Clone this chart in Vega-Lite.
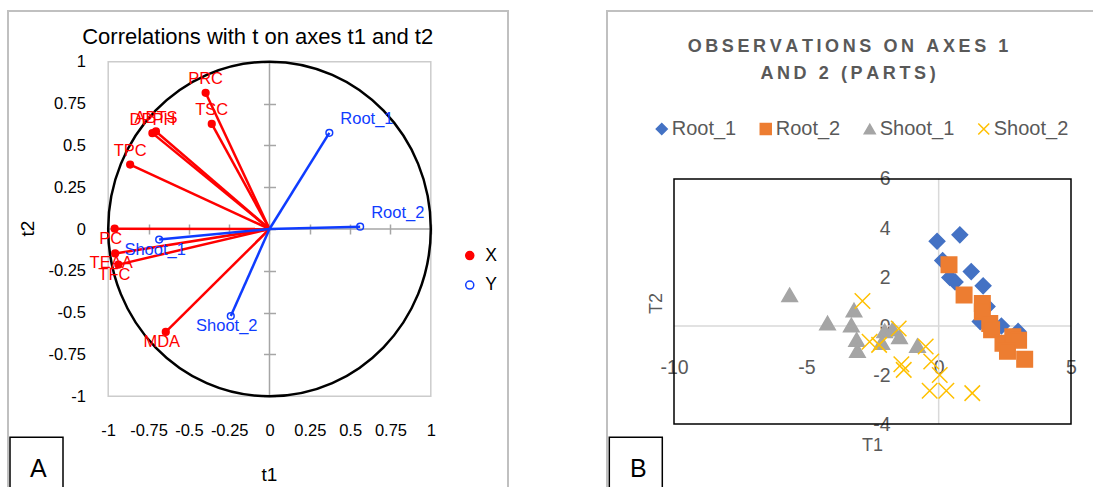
{
  "$schema": "https://vega.github.io/schema/vega-lite/v6.json",
  "background": "white",
  "padding": 0,
  "spacing": 20,
  "config": {"view": {"stroke": null}, "font": "Liberation Sans"},
  "resolve": {
    "scale": {"x": "independent", "y": "independent", "color": "independent", "fill": "independent", "shape": "independent"},
    "legend": {"color": "independent", "fill": "independent", "shape": "independent"}
  },
  "hconcat": [
    {
      "width": 540,
      "height": 487,
      "title": {"text": "Correlations with t on axes t1 and t2", "font": "Liberation Sans", "fontSize": 22, "fontWeight": "normal", "color": "black", "anchor": "middle", "frame": "group", "dx": -12.3, "offset": -48.7},
      "data": {"values": [
        {"name": "PRC", "type": "X", "t1": -0.396, "t2": 0.814},
        {"name": "TSC", "type": "X", "t1": -0.358, "t2": 0.628},
        {"name": "DPPH", "type": "X", "t1": -0.726, "t2": 0.573},
        {"name": "ABTS", "type": "X", "t1": -0.704, "t2": 0.583},
        {"name": "TPC", "type": "X", "t1": -0.864, "t2": 0.385},
        {"name": "PC", "type": "X", "t1": -0.96, "t2": 0.002},
        {"name": "TEAA", "type": "X", "t1": -0.957, "t2": -0.146},
        {"name": "TFC", "type": "X", "t1": -0.937, "t2": -0.213},
        {"name": "MDA", "type": "X", "t1": -0.643, "t2": -0.615},
        {"name": "Root_1", "type": "Y", "t1": 0.371, "t2": 0.575},
        {"name": "Root_2", "type": "Y", "t1": 0.562, "t2": 0.014},
        {"name": "Shoot_1", "type": "Y", "t1": -0.684, "t2": -0.063},
        {"name": "Shoot_2", "type": "Y", "t1": -0.24, "t2": -0.52}
      ]},
      "layer": [
        {
          "data": {"values": [{}]},
          "mark": {"type": "rect", "filled": false, "stroke": "#c0c0c0", "strokeWidth": 2, "clip": true},
          "encoding": {
            "x": {"datum": -1.6212, "type": "quantitative",
              "scale": {"domain": [-1.6708, 1.677], "nice": false, "zero": false},
              "axis": {"values": [-1, -0.75, -0.5, -0.25, 0, 0.25, 0.5, 0.75, 1], "orient": "bottom", "offset": -263, "domain": false, "grid": false, "ticks": true, "tickSize": 10, "tickColor": "#a6a6a6", "tickWidth": 1.5, "labelPadding": 196.5, "labelBaseline": "middle", "labelFont": "Liberation Sans", "labelFontSize": 16.5, "labelColor": "black", "labelFlush": false, "labelOverlap": false, "labelBound": false, "labelExpr": "toString(datum.value)", "title": "t1", "titleFont": "Liberation Sans", "titleFontSize": 19, "titleFontWeight": "normal", "titleColor": "black", "titleX": 269, "titleY": 250, "titleBaseline": "middle", "titleAlign": "center"}},
            "x2": {"datum": 1.47861},
            "y": {"datum": 1.30305, "type": "quantitative",
              "scale": {"domain": [-1.54214, 1.3688], "nice": false, "zero": false},
              "axis": {"values": [-1, -0.75, -0.5, -0.25, 0, 0.25, 0.5, 0.75, 1], "orient": "left", "offset": -275.5, "domain": false, "grid": false, "ticks": true, "tickSize": 12, "tickColor": "#a6a6a6", "tickWidth": 1.5, "labelPadding": 178, "labelAlign": "right", "labelBaseline": "middle", "labelFont": "Liberation Sans", "labelFontSize": 16.5, "labelColor": "black", "labelFlush": false, "labelOverlap": false, "labelBound": false, "labelExpr": "toString(datum.value)", "title": "t2", "titleFont": "Liberation Sans", "titleFontSize": 19, "titleFontWeight": "normal", "titleColor": "black", "titleX": -248.5, "titleY": 228, "titleBaseline": "middle", "titleAlign": "center", "titleAngle": -90}},
            "y2": {"datum": -1.6}
          }
        },
        {
          "data": {"values": [{}]},
          "mark": {"type": "rect", "filled": false, "stroke": "#cccccc", "strokeWidth": 1.5},
          "encoding": {"x": {"datum": -1}, "x2": {"datum": 1}, "y": {"datum": -1}, "y2": {"datum": 1}}
        },
        {
          "data": {"values": [{}]},
          "mark": {"type": "rule", "stroke": "#a6a6a6", "strokeWidth": 1.5},
          "encoding": {"x": {"datum": 0}, "y": {"datum": -1}, "y2": {"datum": 1}}
        },
        {
          "data": {"values": [{}]},
          "mark": {"type": "rule", "stroke": "#a6a6a6", "strokeWidth": 1.5},
          "encoding": {"y": {"datum": 0}, "x": {"datum": -1}, "x2": {"datum": 1}}
        },
        {
          "data": {"values": [{}]},
          "mark": {"type": "point", "shape": "M0.96414,0C0.96414,0.55228,0.53248,1,0,1C-0.53248,1,-0.96414,0.55228,-0.96414,0C-0.96414,-0.55228,-0.53248,-1,0,-1C0.53248,-1,0.96414,-0.55228,0.96414,0Z", "size": 111957, "filled": false, "stroke": "black", "strokeWidth": 2.5, "opacity": 1},
          "encoding": {"x": {"datum": 0}, "y": {"datum": 0}}
        },
        {
          "data": {"values": [{}]},
          "mark": {"type": "rect", "filled": false, "stroke": "black", "strokeWidth": 1.5, "clip": true},
          "encoding": {"x": {"datum": -1.6088}, "x2": {"datum": -1.28022}, "y": {"datum": -1.24507}, "y2": {"datum": -1.6}}
        },
        {
          "data": {"values": [{"panel": "A"}]},
          "mark": {"type": "text", "font": "Liberation Sans", "fontSize": 25, "color": "black", "align": "center", "baseline": "middle"},
          "encoding": {"text": {"field": "panel"}, "x": {"datum": -1.43335}, "y": {"datum": -1.43305}}
        },
        {
          "mark": {"type": "rule", "strokeWidth": 2.5},
          "encoding": {
            "x": {"field": "t1", "type": "quantitative"},
            "y": {"field": "t2", "type": "quantitative"},
            "x2": {"datum": 0},
            "y2": {"datum": 0},
            "color": {"condition": {"test": "datum.type === 'X'", "value": "#ff0000"}, "value": "#0f3cff"}
          }
        },
        {
          "mark": {"type": "point", "filled": false, "size": 45, "strokeWidth": 1.5, "opacity": 1},
          "encoding": {
            "x": {"field": "t1", "type": "quantitative"},
            "y": {"field": "t2", "type": "quantitative"},
            "color": {"field": "type", "type": "nominal", "scale": {"domain": ["X", "Y"], "range": ["#ff0000", "#0f3cff"]},
              "legend": {"orient": "none", "legendX": 461, "legendY": 246.8, "title": null, "padding": 0, "labelFont": "Liberation Sans", "labelFontSize": 17.5, "labelColor": "black", "labelOffset": 6.8, "rowPadding": 10.5, "symbolSize": 65, "symbolStrokeWidth": 1.5}},
            "fill": {"field": "type", "type": "nominal", "scale": {"domain": ["X", "Y"], "range": ["#ff0000", "transparent"]}}
          }
        },
        {
          "transform": [{"filter": "indexof(['PRC','TSC','DPPH','ABTS','TPC'], datum.name) >= 0"}],
          "mark": {"type": "text", "font": "Liberation Sans", "fontSize": 16.5, "align": "center", "baseline": "middle", "dy": -13.5},
          "encoding": {
            "x": {"field": "t1", "type": "quantitative"},
            "y": {"field": "t2", "type": "quantitative"},
            "text": {"field": "name"},
            "color": {"condition": {"test": "datum.type === 'X'", "value": "#ff0000"}, "value": "#0f3cff"}
          }
        },
        {
          "transform": [{"filter": "indexof(['PC','TEAA','TFC','MDA','Shoot_1','Shoot_2'], datum.name) >= 0"}],
          "mark": {"type": "text", "font": "Liberation Sans", "fontSize": 16.5, "align": "center", "baseline": "middle", "dy": 10, "dx": -4},
          "encoding": {
            "x": {"field": "t1", "type": "quantitative"},
            "y": {"field": "t2", "type": "quantitative"},
            "text": {"field": "name"},
            "color": {"condition": {"test": "datum.type === 'X'", "value": "#ff0000"}, "value": "#0f3cff"}
          }
        },
        {
          "transform": [{"filter": "indexof(['Root_1','Root_2'], datum.name) >= 0"}],
          "mark": {"type": "text", "font": "Liberation Sans", "fontSize": 16.5, "align": "left", "baseline": "middle", "dy": -14, "dx": 11},
          "encoding": {
            "x": {"field": "t1", "type": "quantitative"},
            "y": {"field": "t2", "type": "quantitative"},
            "text": {"field": "name"},
            "color": {"condition": {"test": "datum.type === 'X'", "value": "#ff0000"}, "value": "#0f3cff"}
          }
        }
      ]
    },
    {
      "width": 533,
      "height": 487,
      "title": {"text": ["O\u2009B\u2009S\u2009E\u2009R\u2009V\u2009A\u2009T\u2009I\u2009O\u2009N\u2009S\u2009 \u2009O\u2009N\u2009 \u2009A\u2009X\u2009E\u2009S\u2009 \u20091", "A\u2009N\u2009D\u2009 \u20092\u2009 \u2009(\u2009P\u2009A\u2009R\u2009T\u2009S\u2009)"], "font": "Liberation Sans", "fontSize": 18, "fontWeight": "bold", "color": "#595959", "anchor": "middle", "frame": "group", "dx": 21.5, "lineHeight": 27, "offset": -82.7},
      "data": {"values": [
        {"series": "Root_1", "T1": -0.06, "T2": 3.46},
        {"series": "Root_1", "T1": 0.8, "T2": 3.72},
        {"series": "Root_1", "T1": 0.15, "T2": 2.67},
        {"series": "Root_1", "T1": 0.42, "T2": 1.98},
        {"series": "Root_1", "T1": 0.62, "T2": 1.8},
        {"series": "Root_1", "T1": 1.23, "T2": 2.22},
        {"series": "Root_1", "T1": 1.68, "T2": 1.64},
        {"series": "Root_1", "T1": 1.83, "T2": 0.8},
        {"series": "Root_1", "T1": 1.57, "T2": 0.18},
        {"series": "Root_1", "T1": 2.37, "T2": 0.0},
        {"series": "Root_1", "T1": 3.0, "T2": -0.22},
        {"series": "Root_2", "T1": 0.39, "T2": 2.5},
        {"series": "Root_2", "T1": 0.96, "T2": 1.27},
        {"series": "Root_2", "T1": 1.65, "T2": 0.92},
        {"series": "Root_2", "T1": 1.65, "T2": 0.58},
        {"series": "Root_2", "T1": 1.93, "T2": 0.1},
        {"series": "Root_2", "T1": 2.0, "T2": -0.15},
        {"series": "Root_2", "T1": 2.43, "T2": -0.7},
        {"series": "Root_2", "T1": 2.8, "T2": -0.44},
        {"series": "Root_2", "T1": 3.02, "T2": -0.58},
        {"series": "Root_2", "T1": 2.6, "T2": -1.03},
        {"series": "Root_2", "T1": 3.25, "T2": -1.36},
        {"series": "Shoot_1", "T1": -5.63, "T2": 1.27},
        {"series": "Shoot_1", "T1": -4.2, "T2": 0.12},
        {"series": "Shoot_1", "T1": -3.2, "T2": 0.65},
        {"series": "Shoot_1", "T1": -3.3, "T2": 0.04},
        {"series": "Shoot_1", "T1": -3.1, "T2": -0.55},
        {"series": "Shoot_1", "T1": -3.07, "T2": -1.0},
        {"series": "Shoot_1", "T1": -2.04, "T2": -0.2},
        {"series": "Shoot_1", "T1": -2.15, "T2": -0.68},
        {"series": "Shoot_1", "T1": -1.73, "T2": -0.12},
        {"series": "Shoot_1", "T1": -1.48, "T2": -0.44},
        {"series": "Shoot_1", "T1": -0.8, "T2": -0.8},
        {"series": "Shoot_2", "T1": -2.88, "T2": 1.02},
        {"series": "Shoot_2", "T1": -2.61, "T2": -0.64},
        {"series": "Shoot_2", "T1": -2.25, "T2": -0.77},
        {"series": "Shoot_2", "T1": -1.51, "T2": -0.1},
        {"series": "Shoot_2", "T1": -0.49, "T2": -0.84},
        {"series": "Shoot_2", "T1": -0.28, "T2": -1.45},
        {"series": "Shoot_2", "T1": -1.41, "T2": -1.56},
        {"series": "Shoot_2", "T1": -1.32, "T2": -1.79},
        {"series": "Shoot_2", "T1": 0.04, "T2": -2.0},
        {"series": "Shoot_2", "T1": -0.34, "T2": -2.64},
        {"series": "Shoot_2", "T1": 0.29, "T2": -2.64},
        {"series": "Shoot_2", "T1": 1.27, "T2": -2.74}
      ]},
      "layer": [
        {
          "data": {"values": [{}]},
          "mark": {"type": "rect", "filled": false, "stroke": "#c0c0c0", "strokeWidth": 2, "clip": true},
          "encoding": {
            "x": {"datum": -12.5315, "type": "quantitative",
              "scale": {"domain": [-14.3073, 5.8312], "nice": false, "zero": false},
              "axis": {"values": [-10, -5, 0, 5], "orient": "bottom", "offset": -120, "domain": false, "grid": false, "ticks": false, "tickSize": 0, "labelPadding": 0, "labelBaseline": "middle", "labelFont": "Liberation Sans", "labelFontSize": 19.5, "labelColor": "#595959", "labelFlush": false, "labelOverlap": false, "labelBound": false, "labelExpr": "toString(datum.value)", "title": "T1", "titleFont": "Liberation Sans", "titleFontSize": 18, "titleFontWeight": "normal", "titleColor": "#595959", "titleX": 312, "titleY": 78, "titleBaseline": "middle", "titleAlign": "center"}},
            "x2": {"datum": 7},
            "y": {"datum": 12.8571, "type": "quantitative",
              "scale": {"domain": [-6.5714, 13.3061], "nice": false, "zero": false},
              "axis": {"values": [-4, -2, 0, 2, 4, 6], "orient": "left", "offset": -330, "domain": false, "grid": false, "ticks": false, "tickSize": 0, "labelPadding": 0, "labelAlign": "right", "labelBaseline": "middle", "labelFont": "Liberation Sans", "labelFontSize": 19.5, "labelColor": "#595959", "labelFlush": false, "labelOverlap": false, "labelBound": false, "labelExpr": "toString(datum.value)", "title": "T2", "titleFont": "Liberation Sans", "titleFontSize": 18, "titleFontWeight": "normal", "titleColor": "#595959", "titleX": -233.3, "titleY": 303, "titleBaseline": "middle", "titleAlign": "center", "titleAngle": -90}},
            "y2": {"datum": -7}
          }
        },
        {
          "data": {"values": [{}]},
          "mark": {"type": "rule", "stroke": "#d9d9d9", "strokeWidth": 1.5},
          "encoding": {"x": {"datum": 0}, "y": {"datum": -4}, "y2": {"datum": 6}}
        },
        {
          "data": {"values": [{}]},
          "mark": {"type": "rule", "stroke": "#d9d9d9", "strokeWidth": 1.5},
          "encoding": {"y": {"datum": 0}, "x": {"datum": -10}, "x2": {"datum": 5}}
        },
        {
          "data": {"values": [{}]},
          "mark": {"type": "rect", "filled": false, "stroke": "black", "strokeWidth": 1.5},
          "encoding": {"x": {"datum": -10}, "x2": {"datum": 5}, "y": {"datum": -4}, "y2": {"datum": 6}}
        },
        {
          "data": {"values": [{}]},
          "mark": {"type": "rect", "filled": false, "stroke": "black", "strokeWidth": 1.5, "clip": true},
          "encoding": {"x": {"datum": -12.4446}, "x2": {"datum": -10.4421}, "y": {"datum": -4.5429}, "y2": {"datum": -7}}
        },
        {
          "data": {"values": [{"panel": "B"}]},
          "mark": {"type": "text", "font": "Liberation Sans", "fontSize": 25, "color": "black", "align": "center", "baseline": "middle"},
          "encoding": {"text": {"field": "panel"}, "x": {"datum": -11.3489}, "y": {"datum": -5.8327}}
        },
        {
          "mark": {"type": "point", "filled": false, "size": 240, "strokeWidth": 1.5, "opacity": 1},
          "encoding": {
            "x": {"field": "T1", "type": "quantitative"},
            "y": {"field": "T2", "type": "quantitative"},
            "color": {"field": "series", "type": "nominal", "scale": {"domain": ["Root_1", "Root_2", "Shoot_1", "Shoot_2"], "range": ["#4472c4", "#ed7d31", "#a5a5a5", "#ffc000"]},
              "legend": {"orient": "none", "direction": "horizontal", "legendX": 91.75, "legendY": 119, "title": null, "padding": 0, "labelFont": "Liberation Sans", "labelFontSize": 20, "labelColor": "#595959", "labelOffset": 0, "columnPadding": 19, "symbolSize": 120, "symbolStrokeWidth": 1.5}},
            "fill": {"field": "series", "type": "nominal", "scale": {"domain": ["Root_1", "Root_2", "Shoot_1", "Shoot_2"], "range": ["#4472c4", "#ed7d31", "#a5a5a5", "transparent"]}},
            "shape": {"field": "series", "type": "nominal", "scale": {"domain": ["Root_1", "Root_2", "Shoot_1", "Shoot_2"], "range": ["diamond", "square", "triangle-up", "M-1,-1L1,1M-1,1L1,-1"]}}
          }
        }
      ]
    }
  ]
}
